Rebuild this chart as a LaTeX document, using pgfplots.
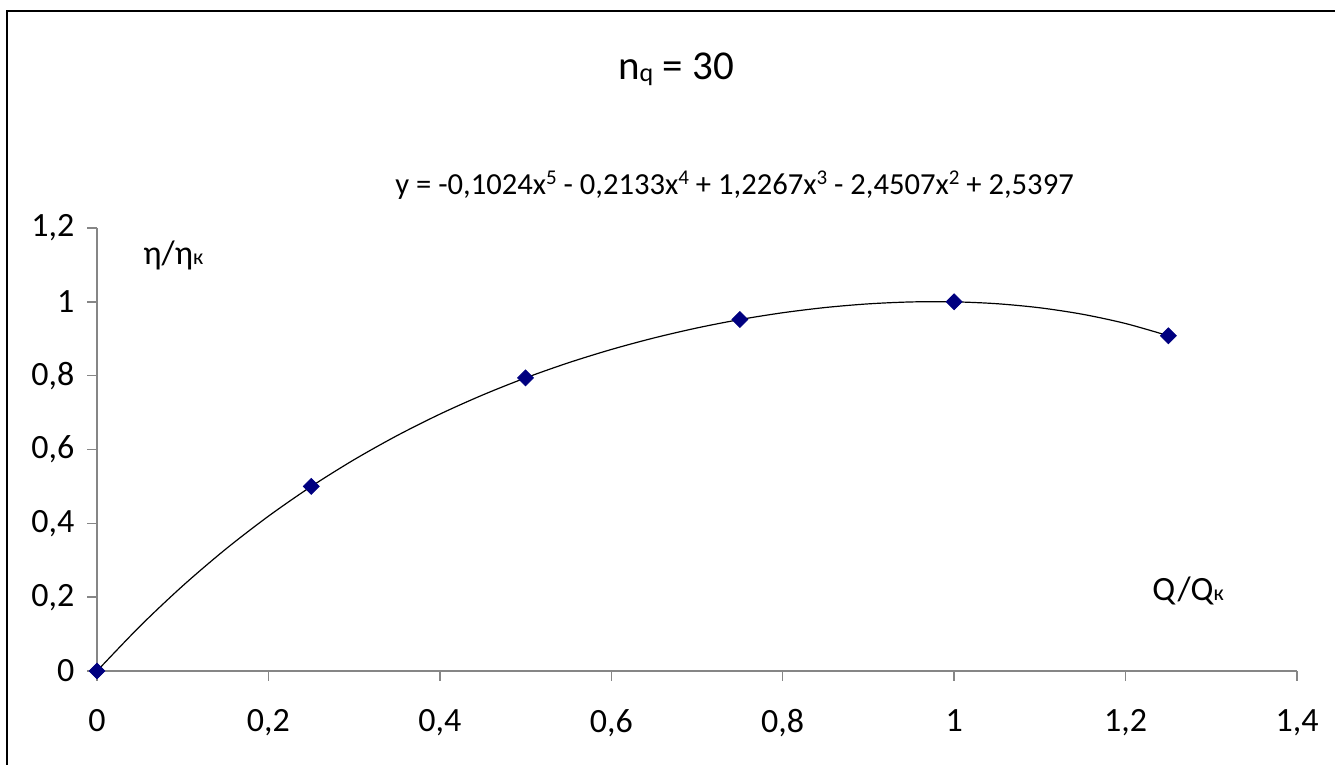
\documentclass[border=0pt]{standalone}
\usepackage{pgfplots}
\pgfplotsset{compat=1.18}
\usepackage{fontspec}
\setmainfont{Carlito}
\definecolor{navy}{RGB}{0,0,128}
\definecolor{axgray}{RGB}{134,134,134}
\newcommand{\sx}[1]{\raisebox{5.5pt}{\fontsize{10.5}{11}\selectfont #1}}
\begin{document}
\begin{tikzpicture}
\useasboundingbox (0,0) rectangle (667.5pt,-382.5pt);
\draw[line width=0.7pt] (3.5pt,-5.5pt) rectangle (700pt,-400pt);
\begin{axis}[
  at={(48.5pt,-335.5pt)}, anchor=south west,
  scale only axis, width=600pt, height=221.5pt,
  xmin=0, xmax=1.4, ymin=0, ymax=1.2,
  axis x line*=bottom, axis y line*=left,
  axis line style={draw=axgray, line width=0.75pt, -},
  xtick={0,0.2,0.4,0.6,0.8,1,1.2,1.4},
  ytick={0,0.2,0.4,0.6,0.8,1,1.2},
  tick align=outside, major tick length=4.75pt,
  tick style={draw=axgray, line width=0.75pt},
  ticklabel style={font=\fontsize{17}{20}\selectfont},
  xticklabel style={yshift=-11pt},
  yticklabel style={xshift=-3pt},
  /pgf/number format/use comma,
  /pgf/number format/assume math mode=true,
  clip=false,
]
\addplot[black, line width=0.6pt, smooth] coordinates {
 (0,0) (0.05,0.12101) (0.1,0.23067) (0.15,0.32984) (0.2,0.41935)
 (0.25,0.49999) (0.3,0.57249) (0.35,0.63754) (0.4,0.69577) (0.45,0.74774)
 (0.5,0.79398) (0.55,0.83492) (0.6,0.87093) (0.65,0.90231) (0.7,0.92928)
 (0.75,0.95198) (0.8,0.97046) (0.85,0.98469) (0.9,0.99452) (0.95,0.99973)
 (1,1.0000) (1.05,0.99489) (1.1,0.98385) (1.15,0.96624) (1.2,0.94127)
 (1.25,0.90805)
};
\addplot[only marks, mark=square*, mark size=2.8pt,
  mark options={rotate=45, fill=navy, draw=navy}] coordinates {
 (0,0) (0.25,0.5) (0.5,0.794) (0.75,0.952) (1,1) (1.25,0.908)
};
\end{axis}
\node[anchor=base, inner sep=0] at (338pt,-40pt)
  {\fontsize{20.5}{24}\selectfont n{\fontsize{13}{14}\selectfont\raisebox{-1pt}{q}} = 30};
\node[anchor=base west, inner sep=0] at (197.5pt,-97.5pt)
  {\fontsize{15.3}{18}\selectfont y = -0,1024x\sx{5} - 0,2133x\sx{4} + 1,2267x\sx{3} - 2,4507x\sx{2} + 2,5397};
\node[anchor=base west, inner sep=0] at (71.5pt,-132pt)
  {\fontsize{17}{20}\selectfont η/η{\fontsize{11}{12}\selectfont к}};
\node[anchor=base west, inner sep=0] at (576pt,-300.4pt)
  {\fontsize{17}{20}\selectfont Q/Q{\fontsize{11}{12}\selectfont к}};
\end{tikzpicture}
\end{document}
